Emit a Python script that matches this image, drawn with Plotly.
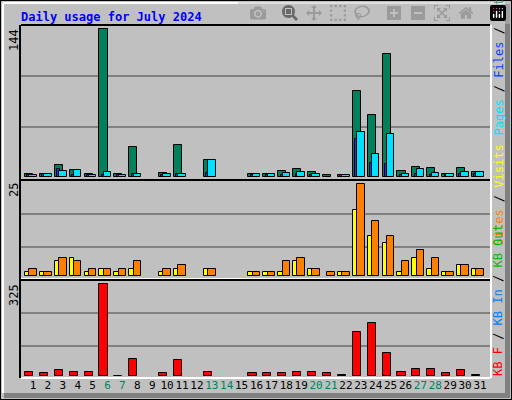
import plotly.graph_objects as go
from plotly.subplots import make_subplots

days = list(range(1, 32))
weekend = [6, 7, 13, 14, 20, 21, 27, 28]

hits = [3, 3, 11, 7, 3, 144, 3, 29, 0, 4, 31, 0, 16, 0, 0, 3,
        3, 6, 8, 5, 2, 2, 84, 60, 120, 6, 10, 9, 3, 9, 5]
files = [2, 3, 8, 2, 2, 2, 2, 3, 0, 2, 3, 0, 4, 0, 0, 2,
         2, 2, 3, 2, 0, 2, 37, 13, 12, 2, 3, 2, 2, 3, 3]
pages = [2, 3, 6, 7, 2, 5, 2, 3, 0, 3, 3, 0, 16, 0, 0, 3,
         3, 4, 5, 3, 0, 2, 44, 22, 42, 3, 8, 4, 3, 5, 5]
visits = [1, 1, 4, 5, 1, 2, 1, 2, 0, 1, 2, 0, 2, 0, 0, 1,
          1, 1, 4, 2, 0, 1, 18, 11, 9, 1, 5, 2, 1, 3, 2]
sites = [2, 1, 5, 4, 2, 2, 2, 4, 0, 2, 3, 0, 2, 0, 0, 1,
         1, 4, 5, 2, 1, 1, 25, 15, 11, 4, 7, 5, 1, 3, 2]
kbytes = [13, 9, 20, 16, 13, 325, 1, 59, 0, 9, 56, 0, 16, 0, 0, 9,
          9, 9, 16, 16, 9, 2, 155, 187, 80, 13, 24, 24, 9, 20, 2]


def nz(v):
    return [x if x else None for x in v]


H, W = 400, 512


def py(p):
    return 1 - p / H


fig = make_subplots(rows=3, cols=1, shared_xaxes=True)
line = dict(color="black", width=1)
fig.add_trace(go.Bar(x=days, y=nz(hits), marker=dict(color="#00805C", line=line),
                     width=0.54, offset=-0.54), row=1, col=1)
fig.add_trace(go.Bar(x=days, y=nz(files), marker=dict(color="#0040FF", line=line),
                     width=0.2, offset=-0.38), row=1, col=1)
fig.add_trace(go.Bar(x=days, y=nz(pages), marker=dict(color="#00E0FF", line=line),
                     width=0.5, offset=-0.25), row=1, col=1)
fig.add_trace(go.Bar(x=days, y=nz(visits), marker=dict(color="#FFFF00", line=line),
                     width=0.3, offset=-0.54), row=2, col=1)
fig.add_trace(go.Bar(x=days, y=nz(sites), marker=dict(color="#FF8000", line=line),
                     width=0.5, offset=-0.25), row=2, col=1)
fig.add_trace(go.Bar(x=days, y=nz(kbytes), marker=dict(color="#FF0000", line=line),
                     width=0.54, offset=-0.54), row=3, col=1)

x0, x1 = 21 / W, 490 / W
panels = [(26, 179, [-2.2, 147.2], [49, 98.5]),
          (181, 278, [-0.5, 25.9], [8, 17]),
          (281, 377, [-3.5, 336.7], [106, 223])]
for i, (t, b, rng, gv) in enumerate(panels, start=1):
    fig.update_yaxes(domain=[py(b), py(t)], range=rng, tickvals=gv, showticklabels=False,
                     gridcolor="#808080", gridwidth=1.5, zeroline=False, fixedrange=True,
                     row=i, col=1)
    fig.update_xaxes(domain=[x0, x1], range=[0.195, 31.67], showgrid=False, zeroline=False,
                     showticklabels=False, row=i, col=1)
ticktext = ['<span style="color:#008060">%d</span>' % d if d in weekend else str(d) for d in days]
fig.update_xaxes(showticklabels=True, tickvals=days, ticktext=ticktext, ticks="", tickangle=0,
                 tickfont=dict(family="DejaVu Sans Mono", size=11, color="black"), row=3, col=1)

shapes = []
# outer frame
shapes.append(dict(type="rect", xref="paper", yref="paper", x0=0, x1=1, y0=0, y1=1,
                   line=dict(color="black", width=2)))
shapes.append(dict(type="rect", xref="paper", yref="paper", x0=505 / W, x1=510 / W, y0=py(398), y1=py(4),
                   fillcolor="#808080", line=dict(width=0)))
shapes.append(dict(type="rect", xref="paper", yref="paper", x0=4 / W, x1=510 / W, y0=py(398), y1=py(393),
                   fillcolor="#808080", line=dict(width=0)))
shapes.append(dict(type="line", xref="paper", yref="paper", x0=3 / W, x1=3 / W, y0=py(393), y1=py(3),
                   line=dict(color="white", width=2)))
shapes.append(dict(type="line", xref="paper", yref="paper", x0=3 / W, x1=505 / W, y0=py(3), y1=py(3),
                   line=dict(color="white", width=2)))
for t, b, _, _ in panels:
    shapes.append(dict(type="line", xref="paper", yref="paper", x0=x0, x1=x1, y0=py(t - 1), y1=py(t - 1),
                       line=dict(color="black", width=2)))
    shapes.append(dict(type="line", xref="paper", yref="paper", x0=x0, x1=x1, y0=py(b + 1), y1=py(b + 1),
                       line=dict(color="white", width=2)))
shapes.append(dict(type="line", xref="paper", yref="paper", x0=x0 - 1 / W, x1=x0 - 1 / W, y0=py(378), y1=py(25),
                   line=dict(color="black", width=2)))
shapes.append(dict(type="line", xref="paper", yref="paper", x0=x1 + 1 / W, x1=x1 + 1 / W, y0=py(378), y1=py(25),
                   line=dict(color="white", width=2)))

mono = dict(family="DejaVu Sans Mono", size=12)
ann = [dict(text="<b>Daily usage for July 2024</b>", x=19 / W, y=py(8), xanchor="left", yanchor="top",
            font=dict(family="DejaVu Sans Mono", size=12, color="#0000FF"))]
for txt, top in [("144", 27), ("25", 181), ("325", 282)]:
    ann.append(dict(text=txt, x=14 / W, y=py(top), xanchor="center", yanchor="top", textangle=-90,
                    font=dict(mono, color="black")))
ann.append(dict(text='<span style="color:#00E0FF">Pages</span> / <span style="color:#0040FF">Files</span>'
                     ' / <span style="color:#008060">Hits</span>',
                x=498 / W, y=py(138), xanchor="center", yanchor="bottom", textangle=-90,
                font=dict(mono, color="black")))
ann.append(dict(text='<span style="color:#FF8000">Sites</span> / <span style="color:#FFFF00">Visits</span>',
                x=498 / W, y=py(248), xanchor="center", yanchor="bottom", textangle=-90,
                font=dict(mono, color="black")))
ann.append(dict(text='<span style="color:#FF0000">KB F</span> / <span style="color:#0080FF">KB In</span>'
                     ' / <span style="color:#00C000">KB Out</span>',
                x=498 / W, y=py(378), xanchor="center", yanchor="bottom", textangle=-90,
                font=dict(mono, color="black")))
for a in ann:
    a.update(xref="paper", yref="paper", showarrow=False)

fig.update_layout(width=W, height=H, margin=dict(l=0, r=0, t=0, b=0), barmode="overlay",
                  paper_bgcolor="#C0C0C0", plot_bgcolor="#C0C0C0", showlegend=False,
                  bargap=0, shapes=shapes, annotations=ann)
fig.write_html("out.html", post_script="document.body.style.margin='0';")
